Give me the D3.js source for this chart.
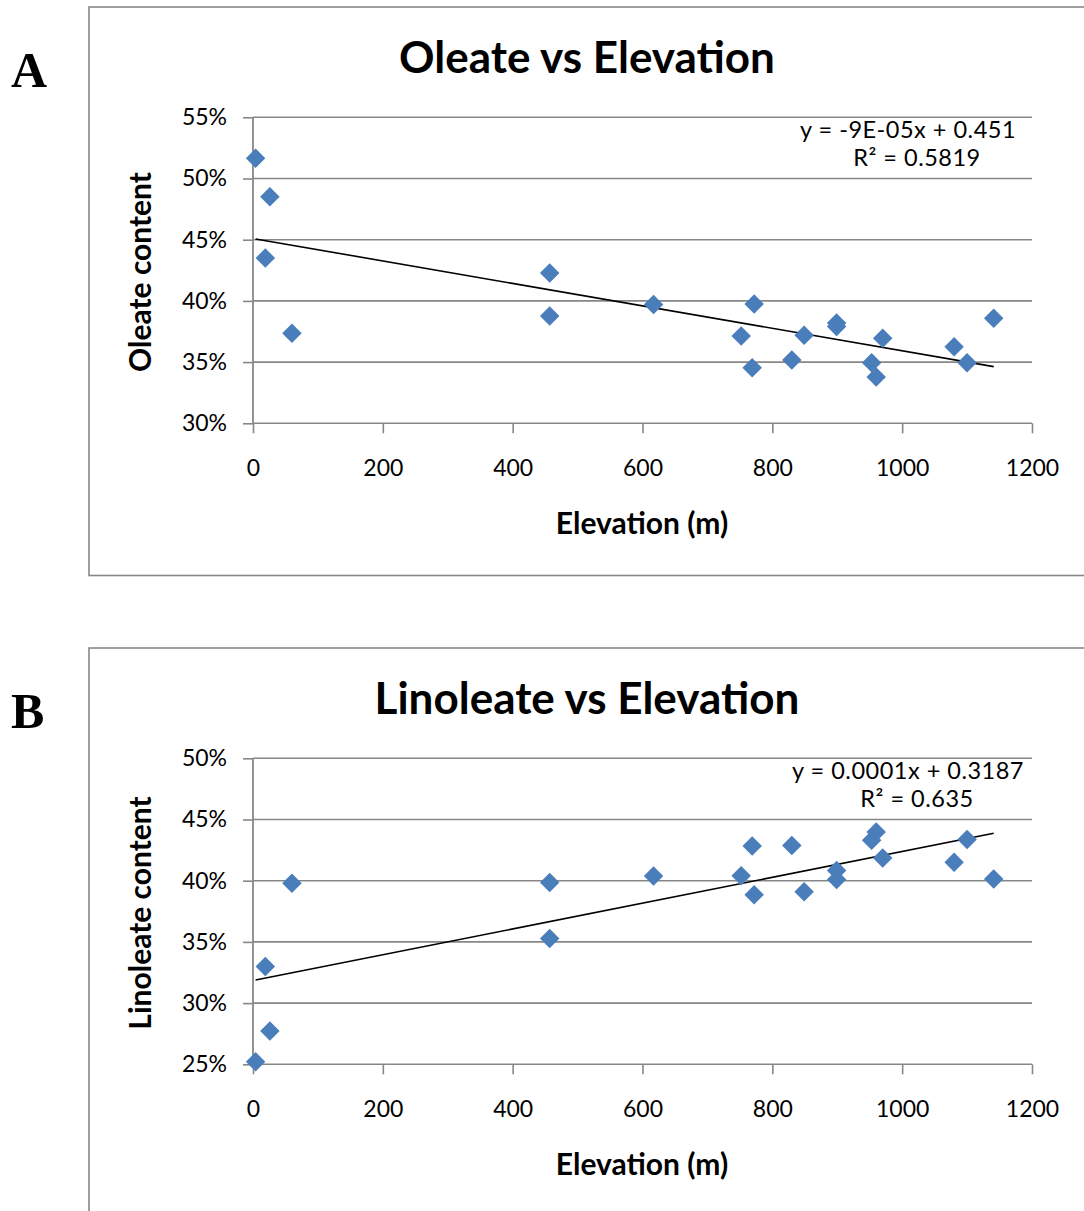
<!DOCTYPE html>
<html><head><meta charset="utf-8">
<script src="https://cdn.jsdelivr.net/npm/d3@7"></script>
<style>
html,body{margin:0;padding:0;background:#fff;}
svg{display:block;}
</style></head>
<body>
<svg id="chart" width="1084" height="1211"></svg>
<script>
// ---- data ----
const elevation = [4, 19, 26, 60, 457, 457, 617, 752, 769, 772, 830, 849, 899, 899, 953, 960, 970, 1080, 1100, 1141];
const oleate    = [0.5165, 0.435, 0.485, 0.3735, 0.4228, 0.3877, 0.397, 0.3713, 0.3454, 0.3975, 0.3517, 0.372, 0.382, 0.379, 0.3495, 0.3378, 0.3694, 0.3626, 0.3495, 0.3858];
const linoleate = [0.252, 0.330, 0.2773, 0.398, 0.3527, 0.3986, 0.4038, 0.404, 0.4284, 0.3885, 0.4287, 0.391, 0.401, 0.4084, 0.433, 0.4398, 0.4185, 0.415, 0.4336, 0.4013];
const xTicks = [0, 200, 400, 600, 800, 1000, 1200];
const oleateTicks = [0.30, 0.35, 0.40, 0.45, 0.50, 0.55];
const linoleateTicks = [0.25, 0.30, 0.35, 0.40, 0.45, 0.50];
const panelLetters = ["A", "B"];
const chartTitles = ["Oleate vs Elevation", "Linoleate vs Elevation"];
const yTitles = ["Oleate content", "Linoleate content"];
const xTitle = "Elevation (m)";
const equations = [["y = -9E-05x + 0.451", "R² = 0.5819"], ["y = 0.0001x + 0.3187", "R² = 0.635"]];

const svg = d3.select("#chart");
const FONT = "Lato, 'Open Sans', sans-serif";
const GRID = "#878787";
const BLUE = "#4A7EBB";

function panel(i, yVals, yTicks, dy) {
  const g = svg.append("g").attr("transform", `translate(0,${dy})`);
  // border
  g.append("rect").attr("x", 89).attr("y", 7).attr("width", 1100)
    .attr("height", i === 0 ? 568.5 : 700)
    .attr("fill", "none").attr("stroke", GRID).attr("stroke-width", 1.6);
  // letter
  svg.append("text").attr("x", 11).attr("y", dy + 87)
    .attr("font-family", "'Liberation Serif', 'Times New Roman', serif")
    .attr("font-weight", "bold").attr("font-size", 50).text(panelLetters[i]);

  const x = d3.scaleLinear().domain([0, 1200]).range([253, 1032]);
  const y = d3.scaleLinear().domain([yTicks[0], yTicks[yTicks.length - 1]]).range([423.3, 117.3]);

  // gridlines
  g.append("g").selectAll("line").data(yTicks).join("line")
    .attr("x1", 253).attr("x2", 1032).attr("y1", d => y(d)).attr("y2", d => y(d))
    .attr("stroke", GRID).attr("stroke-width", 1.6);

  // y axis
  const ya = g.append("g").attr("transform", "translate(253,0)")
    .call(d3.axisLeft(y).tickValues(yTicks).tickSize(10).tickPadding(16).tickFormat(d3.format(".0%")));
  ya.select(".domain").remove();
  ya.selectAll(".tick line").attr("stroke", GRID).attr("stroke-width", 1.6);
  ya.append("line").attr("x1", 0).attr("x2", 0).attr("y1", 117.3).attr("y2", 423.3)
    .attr("stroke", GRID).attr("stroke-width", 1.8);
  ya.selectAll(".tick text").attr("font-family", FONT).attr("font-size", 23).attr("fill", "#000");

  // x axis
  const xa = g.append("g").attr("transform", "translate(0,423.3)")
    .call(d3.axisBottom(x).tickValues(xTicks).tickSize(10).tickPadding(26).tickFormat(d3.format("d")));
  xa.select(".domain").remove();
  xa.selectAll(".tick line").attr("stroke", GRID).attr("stroke-width", 1.6);
  xa.selectAll(".tick text").attr("font-family", FONT).attr("font-size", 23).attr("fill", "#000");

  // trendline (least squares)
  const n = elevation.length;
  const mx = d3.mean(elevation), my = d3.mean(yVals);
  let sxy = 0, sxx = 0;
  for (let k = 0; k < n; k++) { sxy += (elevation[k] - mx) * (yVals[k] - my); sxx += (elevation[k] - mx) ** 2; }
  const slope = sxy / sxx, icpt = my - slope * mx;
  const ext = d3.extent(elevation);
  g.append("line").attr("x1", x(ext[0])).attr("x2", x(ext[1]))
    .attr("y1", y(icpt + slope * ext[0])).attr("y2", y(icpt + slope * ext[1]))
    .attr("stroke", "#000").attr("stroke-width", 1.6);

  // points
  g.append("g").selectAll("path").data(elevation).join("path")
    .attr("d", d3.symbol(d3.symbolSquare, 190))
    .attr("transform", (d, k) => `translate(${x(d)},${y(yVals[k])}) rotate(45)`)
    .attr("fill", BLUE);

  // title
  g.append("text").attr("x", 587).attr("y", 73).attr("text-anchor", "middle")
    .attr("font-family", FONT).attr("font-weight", "bold").attr("font-size", 44)
    .text(chartTitles[i]);
  // axis titles
  g.append("text").attr("x", 642).attr("y", 534).attr("text-anchor", "middle")
    .attr("font-family", FONT).attr("font-weight", "bold").attr("font-size", 30)
    .text(xTitle);
  g.append("text").attr("transform", "translate(151,272) rotate(-90)").attr("text-anchor", "middle")
    .attr("font-family", FONT).attr("font-weight", "bold").attr("font-size", 30)
    .text(yTitles[i]);
  // equation
  const eq = g.append("text").attr("font-family", FONT).attr("font-size", 23.5)
    .attr("letter-spacing", 0.5).attr("text-anchor", "middle");
  eq.append("tspan").attr("x", 908).attr("y", 138).text(equations[i][0]);
  eq.append("tspan").attr("x", 917).attr("y", 166).text(equations[i][1]);
}

panel(0, oleate, oleateTicks, 0);
panel(1, linoleate, linoleateTicks, 641);
</script>
</body></html>
